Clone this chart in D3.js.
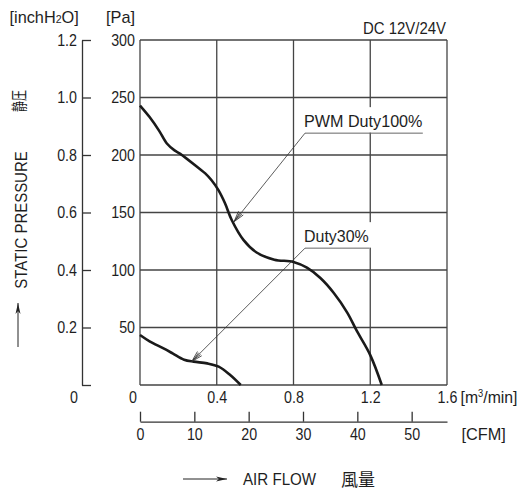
<!DOCTYPE html>
<html><head><meta charset="utf-8">
<script src="https://cdn.jsdelivr.net/npm/d3@7"></script>
<style>
html,body{margin:0;padding:0;background:#fff;}
text{font-family:"Liberation Sans",Arial,sans-serif;fill:#1e1e1e;}
text.cjk{font-family:"Noto Sans CJK JP","Noto Sans CJK SC",sans-serif;}
</style></head>
<body>
<svg id="c" width="522" height="490"></svg>
<script>
// ---- data ----
const flowDuty100 = [0,0.05,0.1,0.14,0.18,0.21,0.31,0.34,0.373,0.408,0.443,0.478,0.54,0.61,0.70,0.80,0.87,0.94,1.01,1.08,1.13,1.20,1.26];
const presDuty100 = [243,233,221,210,204,201,188,184,178,169.6,158,143.5,126,115,109,107,102,93,80,63,47,26,0];
const flowDuty30 = [0,0.05,0.12,0.17,0.23,0.28,0.35,0.41,0.47,0.525];
const presDuty30 = [43.5,38,32,27.5,22,20.3,18.8,16,8.7,0];
const paTicks = [50,100,150,200,250,300];
const inchTicks = [0,0.2,0.4,0.6,0.8,1.0,1.2];
const m3Ticks = [0.4,0.8,1.2,1.6];
const cfmTicks = [0,10,20,30,40,50];
const seriesLabels = ["PWM Duty100%","Duty30%"];
// annotation anchors in data units (arrow tip, elbow) and end of underline
const annot = [
  {label: seriesLabels[0], tip:[0.49,142], elbow:[0.86,219], endQ:1.474, s:0.95},
  {label: seriesLabels[1], tip:[0.27,20.5], elbow:[0.86,119], endQ:1.196, s:0.94}
];

const svg = d3.select("#c");
const x = d3.scaleLinear().domain([0,1.6]).range([140,447]);
const y = d3.scaleLinear().domain([0,300]).range([385,40]);
const yIn = d3.scaleLinear().domain([0,1.2]).range([385,40]);
const xCfm = d3.scaleLinear().domain([0,1.6*35.3147]).range([140,447]);

const FS = 17;
const DIG = 0.84;   // horizontal condensing of numerals
const gridColor = "#444";

function condense(sel, s){
  sel.each(function(){
    const t = d3.select(this);
    const ax = +t.attr("x") || 0;
    const prev = t.attr("transform") || "";
    t.attr("transform", `${prev} translate(${ax},0) scale(${s},1) translate(${-ax},0)`);
  });
  return sel;
}

// defs
const defs = svg.append("defs");
defs.append("marker").attr("id","openArrow").attr("viewBox","-12 -5 14 10")
  .attr("refX",0).attr("refY",0).attr("markerWidth",14).attr("markerHeight",10)
  .attr("markerUnits","userSpaceOnUse").attr("orient","auto")
  .append("path").attr("d","M-11,-3 L0,0 L-11,3 M-11,-1.3 L-2,0 L-11,1.3")
  .attr("fill","none").attr("stroke","#333").attr("stroke-width",0.8);
defs.append("marker").attr("id","solidArrow").attr("viewBox","-12 -4 13 8")
  .attr("refX",0).attr("refY",0).attr("markerWidth",13).attr("markerHeight",8)
  .attr("markerUnits","userSpaceOnUse").attr("orient","auto")
  .append("path").attr("d","M-11,-2.5 L0,0 L-11,2.5 L-8,0 Z").attr("fill","#222");

// grid
const grid = svg.append("g");
grid.selectAll("line.h").data([0].concat(paTicks)).join("line")
  .attr("x1",x(0)).attr("x2",x(1.6)).attr("y1",d=>y(d)).attr("y2",d=>y(d))
  .attr("stroke",gridColor).attr("stroke-width",1.3);
grid.selectAll("line.v").data([0].concat(m3Ticks)).join("line")
  .attr("y1",y(0)).attr("y2",y(300)).attr("x1",d=>x(d)).attr("x2",d=>x(d))
  .attr("stroke",gridColor).attr("stroke-width",1.3);

// curves
const line = d3.line().x(d=>x(d[0])).y(d=>y(d[1])).curve(d3.curveCatmullRom.alpha(0.5));
[[flowDuty100,presDuty100],[flowDuty30,presDuty30]].forEach(([f,p])=>{
  svg.append("path").datum(f.map((v,i)=>[v,p[i]])).attr("d",line)
    .attr("fill","none").attr("stroke","#1a1a1a").attr("stroke-width",2.6)
    .attr("stroke-linejoin","round");
});

// annotations
annot.forEach(a=>{
  const ex = x(a.elbow[0]), ey = y(a.elbow[1]);
  const g = svg.append("g");
  g.append("rect").attr("x",ex-4).attr("y",ey-26).attr("width",x(a.endQ)-ex+6).attr("height",25.5).attr("fill","#fff");
  condense(g.append("text").attr("x",ex-1).attr("y",ey-6).attr("font-size",FS).text(a.label), a.s);
  g.append("line").attr("x1",ex).attr("y1",ey).attr("x2",x(a.endQ)).attr("y2",ey)
    .attr("stroke","#666").attr("stroke-width",1);
  g.append("line").attr("x1",ex).attr("y1",ey).attr("x2",x(a.tip[0])).attr("y2",y(a.tip[1]))
    .attr("stroke","#333").attr("stroke-width",0.8).attr("marker-end","url(#openArrow)");
});

// Pa axis labels
const paAxis = svg.append("g").attr("transform",`translate(${x(0)},0)`)
  .call(d3.axisLeft(y).tickValues(paTicks).tickSize(0).tickPadding(5));
paAxis.select(".domain").remove();
condense(paAxis.selectAll("text").attr("font-size",FS).attr("font-family",null), DIG);

// inch axis
const inAxis = svg.append("g").attr("transform","translate(82,0)")
  .call(d3.axisLeft(yIn).tickValues(inchTicks).tickSizeInner(-9).tickSizeOuter(0).tickPadding(5)
    .tickFormat(d=>d===0?"":d3.format(".1f")(d)));
inAxis.select(".domain").attr("stroke","#333").attr("stroke-width",1.3);
inAxis.selectAll(".tick line").attr("stroke","#333").attr("stroke-width",1.3);
condense(inAxis.selectAll("text").attr("font-size",FS).attr("font-family",null), DIG);

// zeros
condense(svg.append("text").attr("x",78).attr("y",403).attr("text-anchor","end").attr("font-size",FS).text("0"), DIG);
condense(svg.append("text").attr("x",137).attr("y",403).attr("text-anchor","end").attr("font-size",FS).text("0"), DIG);

// m3/min axis
const mAxis = svg.append("g").attr("transform",`translate(0,${y(0)})`)
  .call(d3.axisBottom(x).tickValues(m3Ticks).tickSize(0).tickPadding(6).tickFormat(d3.format(".1f")));
mAxis.select(".domain").remove();
condense(mAxis.selectAll("text").attr("font-size",FS).attr("font-family",null), DIG);
const unitM = svg.append("text").attr("x",460.5).attr("y",403).attr("font-size",FS);
unitM.append("tspan").text("[m");
unitM.append("tspan").attr("font-size",10).attr("dy",-6).text("3");
unitM.append("tspan").attr("dy",6).text("/min]");
condense(unitM, 0.93);

// CFM axis
const cAxis = svg.append("g").attr("transform","translate(0,421.7)")
  .call(d3.axisBottom(xCfm).tickValues(cfmTicks).tickSizeInner(-10).tickSizeOuter(0).tickPadding(6));
cAxis.select(".domain").attr("stroke","#333").attr("stroke-width",1.3);
cAxis.selectAll(".tick line").attr("stroke","#333").attr("stroke-width",1.3);
condense(cAxis.selectAll("text").attr("font-size",FS).attr("font-family",null), DIG);
condense(svg.append("text").attr("x",461.5).attr("y",440).attr("font-size",FS).text("[CFM]"), 0.96);

// header labels
const inchLbl = svg.append("text").attr("x",9.5).attr("y",23).attr("font-size",FS);
inchLbl.append("tspan").text("[inchH");
inchLbl.append("tspan").attr("font-size",11).text("2");
inchLbl.append("tspan").text("O]");
condense(inchLbl, 0.96);
condense(svg.append("text").attr("x",106).attr("y",23).attr("font-size",FS).text("[Pa]"), 0.96);
condense(svg.append("text").attr("x",446).attr("y",34).attr("text-anchor","end").attr("font-size",FS).text("DC 12V/24V"), 0.88);

// y title
condense(svg.append("text").attr("transform","translate(27,220) rotate(-90)").attr("text-anchor","middle")
  .attr("font-size",FS).text("STATIC PRESSURE"), 0.88);
svg.append("text").attr("class","cjk").attr("transform","translate(25,101) rotate(-90)").attr("text-anchor","middle")
  .attr("font-size",16).attr("textLength",22).attr("lengthAdjust","spacingAndGlyphs").text("静圧");
svg.append("line").attr("x1",18).attr("y1",347).attr("x2",18).attr("y2",303)
  .attr("stroke","#222").attr("stroke-width",1).attr("marker-end","url(#solidArrow)");

// x title
svg.append("line").attr("x1",183).attr("y1",479).attr("x2",227).attr("y2",479)
  .attr("stroke","#222").attr("stroke-width",1).attr("marker-end","url(#solidArrow)");
condense(svg.append("text").attr("x",243).attr("y",485.5).attr("font-size",FS).text("AIR FLOW"), 0.89);
svg.append("text").attr("class","cjk").attr("x",341).attr("y",485.5).attr("font-size",17).text("風量");
</script>
</body></html>
